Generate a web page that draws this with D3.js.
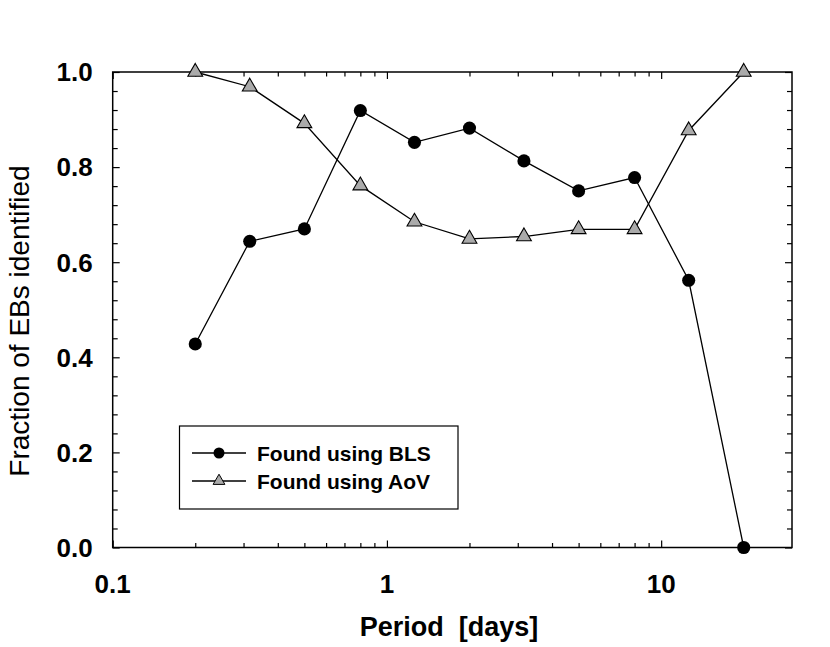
<!DOCTYPE html>
<html>
<head>
<meta charset="utf-8">
<script src="https://cdn.jsdelivr.net/npm/d3@7"></script>
<style>
    body { margin: 0; background: #fff; }
    text { font-family: "Liberation Sans", Arial, Helvetica, sans-serif; white-space: pre; }
</style>
</head>
<body>
<div id="chart"></div>
<script>
    // period bins (days) and fraction found by each method
    let periods = [0.2, 0.316, 0.5, 0.8, 1.26, 2, 3.16, 5, 8, 12.6, 20];
    let blsValues = [0.428, 0.644, 0.670, 0.919, 0.852, 0.882, 0.813, 0.750, 0.778, 0.562, 0.0];
    let aovValues = [1.0, 0.969, 0.892, 0.761, 0.685, 0.649, 0.654, 0.669, 0.669, 0.877, 1.0];

    let xTickValues = [0.1, 1, 10];
    let xTickLabels = ["0.1", "1", "10"];
    let yTickValues = [0, 0.2, 0.4, 0.6, 0.8, 1.0];
    let yTickLabels = ["0.0", "0.2", "0.4", "0.6", "0.8", "1.0"];
    let seriesNames = ["Found using BLS", "Found using AoV"];

    let margin = { top: 72, right: 38, bottom: 99.5, left: 112.7 };
    let fullWidth = 830, fullHeight = 647;
    let width = fullWidth - margin.left - margin.right;
    let height = fullHeight - margin.top - margin.bottom;

    let xScale = d3.scaleLog().domain([0.1, 30]).range([0, width]);
    let yScale = d3.scaleLinear().domain([0, 1]).range([height, 0]);

    // minor ticks: 2..9 in the first two decades, none above 10
    let xMinor = [];
    [0.1, 1].forEach(function (base) {
        for (let k = 2; k <= 9; k++) xMinor.push(base * k);
    });
    let yMinor = d3.range(0, 1.0001, 0.04).filter(function (v) {
        return Math.abs(v / 0.2 - Math.round(v / 0.2)) > 1e-6;
    });

    let svg = d3.select('#chart').append('svg')
        .attr('width', fullWidth)
        .attr('height', fullHeight);

    let g = svg.append('g')
        .attr('transform', 'translate(' + margin.left + ',' + margin.top + ')');

    // inward ticks on all four sides
    function drawTicks(axisFn, scale, values, size, transform) {
        let ax = g.append('g').attr('transform', transform);
        ax.call(axisFn(scale).tickValues(values).tickSize(size).tickFormat(''));
        ax.select('.domain').remove();
        ax.selectAll('line').attr('stroke', '#000').attr('stroke-width', 1.2);
    }
    drawTicks(d3.axisTop, xScale, xTickValues, 7, 'translate(0,' + height + ')');
    drawTicks(d3.axisTop, xScale, xMinor, 4.5, 'translate(0,' + height + ')');
    drawTicks(d3.axisBottom, xScale, xTickValues, 7, 'translate(0,0)');
    drawTicks(d3.axisBottom, xScale, xMinor, 4.5, 'translate(0,0)');
    drawTicks(d3.axisRight, yScale, yTickValues, 7, 'translate(0,0)');
    drawTicks(d3.axisRight, yScale, yMinor, 5, 'translate(0,0)');
    drawTicks(d3.axisLeft, yScale, yTickValues, 7, 'translate(' + width + ',0)');
    drawTicks(d3.axisLeft, yScale, yMinor, 5, 'translate(' + width + ',0)');

    // frame
    g.append('rect')
        .attr('width', width)
        .attr('height', height)
        .attr('fill', 'none')
        .attr('stroke', '#000')
        .attr('stroke-width', 1.5);

    // tick labels
    g.selectAll('.xlab').data(xTickValues)
        .enter().append('text')
        .attr('x', function (d) { return xScale(d); })
        .attr('y', height + 45)
        .attr('text-anchor', 'middle')
        .style('font-size', '26px')
        .style('font-weight', 'bold')
        .text(function (d, i) { return xTickLabels[i]; });

    g.selectAll('.ylab').data(yTickValues)
        .enter().append('text')
        .attr('x', -20)
        .attr('y', function (d) { return yScale(d); })
        .attr('dy', '0.36em')
        .attr('text-anchor', 'end')
        .style('font-size', '26px')
        .style('font-weight', 'bold')
        .text(function (d, i) { return yTickLabels[i]; });

    // axis titles
    svg.append('text')
        .attr('x', 449)
        .attr('y', 636)
        .attr('text-anchor', 'middle')
        .style('font-size', '27px')
        .style('font-weight', 'bold')
        .text('Period  [days]');

    svg.append('text')
        .attr('transform', 'translate(29,321) rotate(-90)')
        .attr('text-anchor', 'middle')
        .style('font-size', '28px')
        .text('Fraction of EBs identified');

    // series
    let line = d3.line()
        .x(function (d) { return xScale(d[0]); })
        .y(function (d) { return yScale(d[1]); });

    let blsData = periods.map(function (p, i) { return [p, blsValues[i]]; });
    let aovData = periods.map(function (p, i) { return [p, aovValues[i]]; });

    [blsData, aovData].forEach(function (data) {
        g.append('path')
            .datum(data)
            .attr('d', line)
            .attr('fill', 'none')
            .attr('stroke', '#000')
            .attr('stroke-width', 1.3);
    });

    let circleSym = d3.symbol().type(d3.symbolCircle);
    let triSym = d3.symbol().type(d3.symbolTriangle);

    g.selectAll('.bls').data(blsData)
        .enter().append('path')
        .attr('d', circleSym.size(135)())
        .attr('transform', function (d) { return 'translate(' + xScale(d[0]) + ',' + yScale(d[1]) + ')'; })
        .attr('fill', '#000');

    g.selectAll('.aov').data(aovData)
        .enter().append('path')
        .attr('d', triSym.size(95)())
        .attr('transform', function (d) { return 'translate(' + xScale(d[0]) + ',' + yScale(d[1]) + ')'; })
        .attr('fill', '#aaaaaa')
        .attr('stroke', '#000')
        .attr('stroke-width', 1.1);

    // legend
    let legend = svg.append('g');
    legend.append('rect')
        .attr('x', 179.5).attr('y', 426)
        .attr('width', 278.5).attr('height', 83)
        .attr('fill', '#fff')
        .attr('stroke', '#000')
        .attr('stroke-width', 1.2);

    let rows = [453, 481];
    seriesNames.forEach(function (name, i) {
        legend.append('line')
            .attr('x1', 192).attr('x2', 246)
            .attr('y1', rows[i]).attr('y2', rows[i])
            .attr('stroke', '#000')
            .attr('stroke-width', 1.3);
        let m = legend.append('path')
            .attr('transform', 'translate(219,' + rows[i] + ')');
        if (i === 0) {
            m.attr('d', d3.symbol().type(d3.symbolCircle).size(95)()).attr('fill', '#000');
        } else {
            m.attr('d', d3.symbol().type(d3.symbolTriangle).size(60)())
                .attr('fill', '#aaaaaa').attr('stroke', '#000').attr('stroke-width', 1);
        }
        legend.append('text')
            .attr('x', 257)
            .attr('y', rows[i])
            .attr('dy', '0.36em')
            .style('font-size', '21px')
            .style('font-weight', 'bold')
            .text(name);
    });
</script>
</body>
</html>
